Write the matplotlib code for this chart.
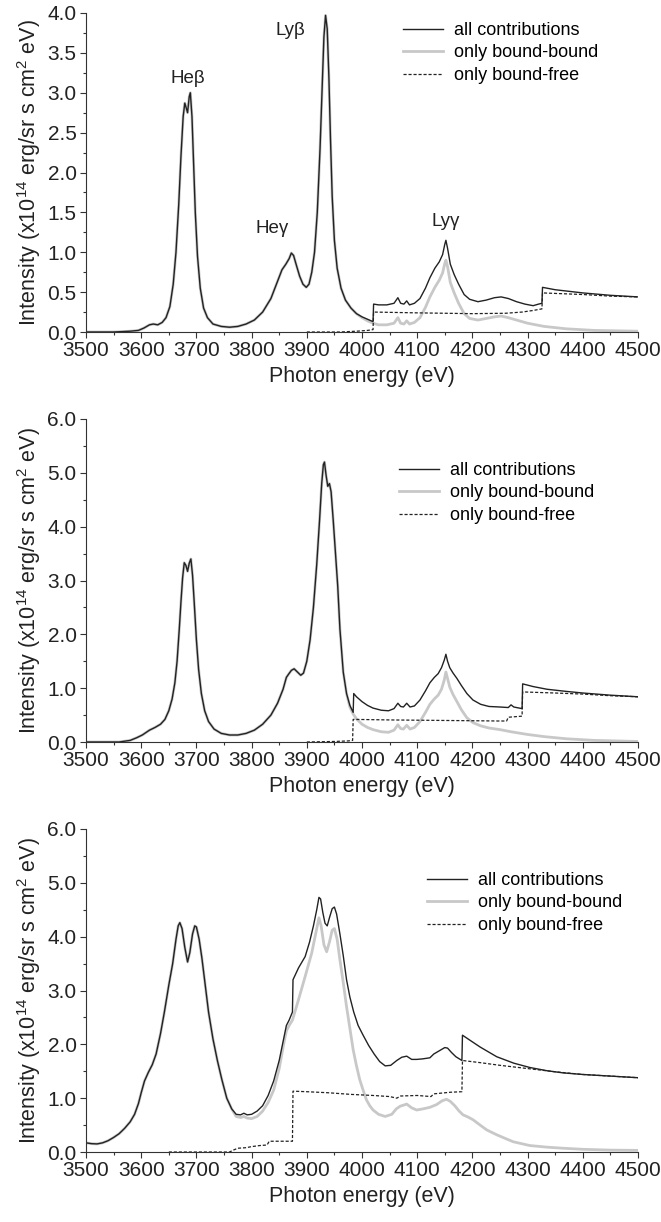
import numpy as np
import matplotlib
matplotlib.use('Agg')
import matplotlib.pyplot as plt
from matplotlib.lines import Line2D

plt.rcParams['font.family'] = ['Liberation Sans', 'DejaVu Sans']
plt.rcParams['mathtext.fontset'] = 'custom'
plt.rcParams['mathtext.rm'] = 'Liberation Sans'

# ---- panel 1 (top) ----
e1_all = [3500, 3550, 3580, 3595, 3605, 3615, 3622, 3630, 3638, 3645, 3652, 3658, 3663, 3668, 3672, 3676,
          3679, 3682, 3684, 3687, 3689, 3692, 3695, 3698, 3702, 3707, 3713, 3720, 3730, 3745, 3760, 3775,
          3790, 3805, 3820, 3835, 3845, 3855, 3862, 3868, 3872, 3876, 3881, 3887, 3893, 3899, 3904, 3909,
          3914, 3919, 3924, 3928, 3931, 3934, 3937, 3940, 3943, 3946, 3950, 3955, 3962, 3970, 3980, 3990,
          4000, 4010, 4020, 4021, 4030, 4045, 4058, 4065, 4070, 4076, 4081, 4086, 4095, 4105, 4115, 4123,
          4132, 4140, 4146, 4150, 4152, 4155, 4160, 4167, 4175, 4185, 4195, 4210, 4225, 4240, 4252, 4265,
          4280, 4295, 4310, 4320, 4326, 4327, 4350, 4400, 4450, 4500]
i1_all = [0.0, 0.0, 0.01, 0.02, 0.05, 0.09, 0.1, 0.09, 0.12, 0.18, 0.32, 0.6, 1.0, 1.6, 2.2, 2.7,
          2.87, 2.8, 2.75, 2.95, 3.0, 2.7, 2.1, 1.5, 0.95, 0.55, 0.3, 0.18, 0.1, 0.07, 0.06, 0.07,
          0.1, 0.15, 0.25, 0.42, 0.6, 0.78, 0.85, 0.92, 0.99, 0.96, 0.84, 0.7, 0.6, 0.56, 0.6, 0.75,
          1.0, 1.5, 2.3, 3.1, 3.7, 3.97, 3.8, 3.2, 2.4, 1.7, 1.15, 0.8, 0.55, 0.4, 0.3, 0.23,
          0.19, 0.16, 0.13, 0.35, 0.34, 0.34, 0.36, 0.43, 0.36, 0.35, 0.39, 0.34, 0.36, 0.42, 0.55, 0.68,
          0.8, 0.88, 0.97, 1.1, 1.15, 1.05, 0.85, 0.72, 0.6, 0.47, 0.41, 0.38, 0.4, 0.43, 0.44, 0.42,
          0.38, 0.35, 0.33, 0.35, 0.36, 0.56, 0.53, 0.49, 0.46, 0.44]
e1_bb_tail = [4000, 4010, 4020, 4030, 4045, 4058, 4065, 4070, 4076, 4081, 4086, 4095, 4105, 4115, 4123,
              4132, 4140, 4146, 4150, 4152, 4155, 4160, 4167, 4175, 4185, 4195, 4210, 4225, 4240, 4252,
              4265, 4280, 4300, 4330, 4370, 4420, 4500]
i1_bb_tail = [0.18, 0.14, 0.11, 0.09, 0.09, 0.11, 0.18, 0.11, 0.1, 0.14, 0.1, 0.12, 0.18, 0.31, 0.44,
              0.56, 0.65, 0.74, 0.86, 0.9, 0.82, 0.62, 0.49, 0.36, 0.23, 0.17, 0.15, 0.17, 0.19, 0.2,
              0.18, 0.15, 0.11, 0.07, 0.04, 0.02, 0.01]
e1_bf = [3900, 3960, 3990, 4010, 4020, 4021, 4100, 4200, 4260, 4290, 4310, 4326, 4327, 4400, 4450, 4500]
i1_bf = [0.0, 0.0, 0.01, 0.02, 0.03, 0.25, 0.24, 0.23, 0.235, 0.25, 0.27, 0.29, 0.49, 0.47, 0.45, 0.44]

# ---- panel 2 (middle) ----
e2_all = [3500, 3560, 3580, 3592, 3602, 3615, 3625, 3635, 3643, 3650, 3656, 3661, 3665, 3669, 3672, 3675,
          3678, 3681, 3684, 3687, 3690, 3693, 3696, 3700, 3704, 3709, 3715, 3722, 3732, 3745, 3760, 3775,
          3790, 3805, 3820, 3835, 3847, 3857, 3863, 3867, 3872, 3877, 3883, 3889, 3894, 3900, 3906, 3912,
          3918, 3923, 3927, 3930, 3932, 3935, 3938, 3941, 3944, 3948, 3952, 3956, 3960, 3966, 3972, 3978,
          3984, 3985, 3990, 4000, 4010, 4020, 4035, 4048, 4058, 4065, 4070, 4075, 4081, 4087, 4095, 4105,
          4115, 4123, 4131, 4138, 4144, 4149, 4152, 4155, 4159, 4165, 4172, 4180, 4190, 4201, 4215, 4230,
          4250, 4265, 4270, 4275, 4285, 4290, 4291, 4310, 4335, 4370, 4400, 4450, 4500]
i2_all = [0.0, 0.0, 0.03, 0.08, 0.13, 0.22, 0.27, 0.33, 0.42, 0.58, 0.8, 1.1, 1.5, 2.1, 2.6, 3.05,
          3.33, 3.28, 3.17, 3.32, 3.4, 3.1, 2.6, 1.9, 1.35, 0.9, 0.58, 0.38, 0.24, 0.16, 0.13, 0.13,
          0.16, 0.22, 0.33, 0.5, 0.72, 0.98, 1.2, 1.26, 1.33, 1.36, 1.3, 1.24, 1.28, 1.5, 1.9, 2.5,
          3.3, 4.1, 4.8, 5.15, 5.2, 4.95, 4.75, 4.8, 4.65, 4.1, 3.5, 2.9, 2.1, 1.3, 0.9, 0.68,
          0.55, 0.9, 0.84, 0.75, 0.68, 0.63, 0.59, 0.58, 0.62, 0.72, 0.66, 0.65, 0.72, 0.65, 0.67, 0.78,
          0.95, 1.1, 1.2, 1.27, 1.38, 1.52, 1.63, 1.5, 1.38, 1.28, 1.18, 1.05, 0.9, 0.78, 0.7, 0.66,
          0.65, 0.64, 0.69, 0.65, 0.63, 0.62, 1.08, 1.03, 0.98, 0.94, 0.91, 0.87, 0.84]
e2_bb_tail = [3978, 3984, 3990, 4000, 4010, 4020, 4035, 4048, 4058, 4065, 4070, 4075, 4081, 4087, 4095,
              4105, 4115, 4123, 4131, 4138, 4144, 4149, 4152, 4155, 4159, 4165, 4172, 4180, 4190, 4201,
              4215, 4230, 4250, 4270, 4300, 4330, 4370, 4420, 4500]
i2_bb_tail = [0.65, 0.52, 0.43, 0.33, 0.27, 0.23, 0.19, 0.18, 0.22, 0.32, 0.25, 0.24, 0.31, 0.24, 0.27,
              0.38, 0.55, 0.7, 0.8, 0.87, 0.98, 1.15, 1.3, 1.18, 1.02, 0.88, 0.75, 0.6, 0.45, 0.36,
              0.3, 0.26, 0.23, 0.19, 0.14, 0.1, 0.06, 0.03, 0.01]
e2_bf = [3900, 3950, 3975, 3983, 3984, 4050, 4150, 4250, 4262, 4265, 4290, 4291, 4350, 4400, 4450, 4500]
i2_bf = [0.0, 0.01, 0.02, 0.03, 0.42, 0.41, 0.4, 0.39, 0.39, 0.46, 0.48, 0.93, 0.91, 0.89, 0.86, 0.84]

# ---- panel 3 (bottom) ----
e3_all = [3500, 3510, 3520, 3530, 3540, 3550, 3560, 3570, 3580, 3588, 3595, 3600, 3606, 3613, 3620, 3627,
          3635, 3642, 3650, 3657, 3663, 3667, 3670, 3674, 3679, 3684, 3688, 3693, 3697, 3700, 3705, 3710,
          3716, 3722, 3730, 3738, 3746, 3755, 3764, 3772, 3780, 3786, 3792, 3800, 3810, 3820, 3830, 3840,
          3850, 3858, 3863, 3868, 3874, 3875, 3885, 3897, 3905, 3912, 3918, 3922, 3925, 3929, 3933, 3937,
          3941, 3946, 3950, 3954, 3960, 3966, 3972, 3978, 3985, 3993, 4002, 4012, 4022, 4032, 4042, 4052,
          4063, 4072, 4081, 4090, 4099, 4110, 4123, 4130, 4140, 4150, 4155, 4162, 4170, 4181, 4182, 4195,
          4214, 4244, 4275, 4304, 4335, 4364, 4400, 4450, 4500]
i3_all = [0.17, 0.155, 0.15, 0.17, 0.21, 0.27, 0.34, 0.44, 0.56, 0.7, 0.9, 1.1, 1.32, 1.48, 1.62, 1.82,
          2.2, 2.6, 3.1, 3.5, 3.95, 4.2, 4.26, 4.15, 3.8, 3.53, 3.7, 4.05, 4.2, 4.18, 3.95, 3.6,
          3.1, 2.6, 2.1, 1.7, 1.35, 1.0, 0.8, 0.7, 0.69, 0.72, 0.69, 0.7, 0.76, 0.86, 1.05, 1.32,
          1.7, 2.1, 2.35, 2.45, 2.6, 3.2, 3.42, 3.63, 3.9, 4.2, 4.5, 4.73, 4.7, 4.45, 4.25, 4.2,
          4.35, 4.52, 4.55, 4.42, 4.05, 3.65, 3.2, 2.88, 2.6, 2.35, 2.17, 1.98, 1.82, 1.68, 1.6, 1.61,
          1.7, 1.76, 1.78, 1.72, 1.72, 1.73, 1.75, 1.82, 1.88, 1.94, 1.93, 1.85, 1.77, 1.7, 2.17, 2.08,
          1.95, 1.77, 1.65, 1.57, 1.51, 1.47, 1.44, 1.41, 1.38]
e3_bb_tail = [3772, 3780, 3786, 3792, 3800, 3810, 3820, 3830, 3840, 3850, 3858, 3863, 3868, 3874, 3885,
              3897, 3909, 3916, 3922, 3926, 3931, 3936, 3941, 3946, 3950, 3955, 3960, 3966, 3972, 3978,
              3984, 3990, 3996, 4002, 4008, 4014, 4020, 4030, 4042, 4054, 4062, 4069, 4081, 4090, 4099,
              4110, 4123, 4135, 4145, 4153, 4160, 4168, 4176, 4183, 4192, 4201, 4214, 4226, 4244, 4260,
              4274, 4304, 4335, 4364, 4400, 4450, 4500]
i3_bb_tail = [0.66, 0.64, 0.66, 0.63, 0.62, 0.66, 0.76, 0.92, 1.15, 1.55, 2.0, 2.25, 2.35, 2.45, 2.83,
              3.26, 3.7, 4.05, 4.35, 4.2, 3.85, 3.72, 3.9, 4.12, 4.15, 3.95, 3.57, 3.15, 2.7, 2.3,
              1.9, 1.6, 1.34, 1.15, 0.97, 0.86, 0.78, 0.7, 0.66, 0.7, 0.8, 0.85, 0.89, 0.82, 0.78,
              0.8, 0.83, 0.88, 0.95, 0.98, 0.94, 0.86, 0.76, 0.69, 0.65, 0.6, 0.5, 0.41, 0.32, 0.25,
              0.19, 0.12, 0.09, 0.07, 0.05, 0.035, 0.03]
e3_bf = [3650, 3760, 3768, 3775, 3790, 3800, 3815, 3828, 3832, 3874, 3875, 3900, 3940, 3980, 4020, 4050,
         4063, 4070, 4100, 4125, 4130, 4160, 4181, 4182, 4214, 4250, 4300, 4350, 4400, 4450, 4500]
i3_bf = [0.0, 0.0, 0.04, 0.07, 0.08, 0.1, 0.12, 0.13, 0.2, 0.2, 1.13, 1.12, 1.1, 1.07, 1.05, 1.03,
         1.0, 1.04, 1.05, 1.03, 1.08, 1.11, 1.12, 1.7, 1.66, 1.61, 1.55, 1.49, 1.44, 1.41, 1.38]

legend_labels = ['all contributions', 'only bound-bound', 'only bound-free']
peak_labels = ['He\u03b2', 'Ly\u03b2', 'He\u03b3', 'Ly\u03b3']
peak_pos = [(3685, 3.18), (3870, 3.78), (3838, 1.3), (4152, 1.38)]

W, H = 661, 1222
fig = plt.figure(figsize=(W / 100, H / 100), dpi=100)

def ax_at(left, top, right, bottom):
    return fig.add_axes([left / W, 1 - bottom / H, (right - left) / W, (bottom - top) / H])

panels = [
    dict(box=(86, 13, 638, 332), ymax=4.0, ymaj=0.5, ymin=0.25,
         all=(e1_all, i1_all), bb=(e1_bb_tail, i1_bb_tail), bf=(e1_bf, i1_bf), leg=(403, 22)),
    dict(box=(86, 419, 638, 742), ymax=6.0, ymaj=1.0, ymin=0.5,
         all=(e2_all, i2_all), bb=(e2_bb_tail, i2_bb_tail), bf=(e2_bf, i2_bf), leg=(399, 462)),
    dict(box=(86, 829, 638, 1152), ymax=6.0, ymaj=1.0, ymin=0.5,
         all=(e3_all, i3_all), bb=(e3_bb_tail, i3_bb_tail), bf=(e3_bf, i3_bf), leg=(427, 872)),
]

dark = '#222222'
grey = '#c8c8c8'

for n, p in enumerate(panels):
    ax = ax_at(*p['box'])
    ea, ia = np.array(p['all'][0]), np.array(p['all'][1])
    eb, ib = p['bb']
    # bound-bound equals the full spectrum below the first edge
    m = ea < eb[0]
    ax.plot(np.r_[ea[m], eb], np.r_[ia[m], ib], color=grey, lw=2.0, solid_capstyle='round')
    ax.plot(ea, ia, color=dark, lw=1.0)
    ax.plot(p['bf'][0], p['bf'][1], color=dark, lw=0.9, ls=(0, (2.5, 1.5)))

    ax.set_xlim(3500, 4500)
    ax.set_ylim(0, p['ymax'])
    ax.set_xticks(np.arange(3500, 4501, 100))
    ax.set_xticks(np.arange(3550, 4500, 100), minor=True)
    ax.set_yticks(np.arange(0, p['ymax'] + 0.01, p['ymaj']))
    ax.set_yticks(np.arange(0, p['ymax'] + 0.01, p['ymin']), minor=True)
    ax.set_yticklabels(['%.1f' % v for v in np.arange(0, p['ymax'] + 0.01, p['ymaj'])])
    for s in ['top', 'right']:
        ax.spines[s].set_visible(False)
    for s in ['left', 'bottom']:
        ax.spines[s].set_color('#333333')
        ax.spines[s].set_linewidth(0.8)
    ax.tick_params(which='major', direction='out', length=4.3, width=0.8, color='#333333',
                   labelsize=15, labelcolor=dark, pad=2.5)
    ax.tick_params(which='minor', direction='out', length=2.2, width=0.8, color='#333333')
    ax.set_xlabel('Photon energy (eV)', fontsize=15.5, color=dark, labelpad=4)
    ax.set_ylabel('Intensity (x10$^{14}$ erg/sr s cm$^{2}$ eV)', fontsize=15.5, color=dark, labelpad=3)

    handles = [Line2D([], [], color=dark, lw=1.0),
               Line2D([], [], color=grey, lw=2.0),
               Line2D([], [], color=dark, lw=0.9, ls=(0, (2.5, 1.5)))]
    lx, ly = p['leg']
    ax.legend(handles, legend_labels, loc='upper left', bbox_to_anchor=(lx / W, 1 - ly / H),
              bbox_transform=fig.transFigure, frameon=False, fontsize=13, borderpad=0,
              borderaxespad=0, handlelength=2.2, handletextpad=0.6, labelspacing=0.3)

    if n == 0:
        for lab, (x, y) in zip(peak_labels, peak_pos):
            ax.text(x, y, lab, ha='center', va='center', fontsize=13.5, color=dark)

fig.savefig('out.png', dpi=100)
